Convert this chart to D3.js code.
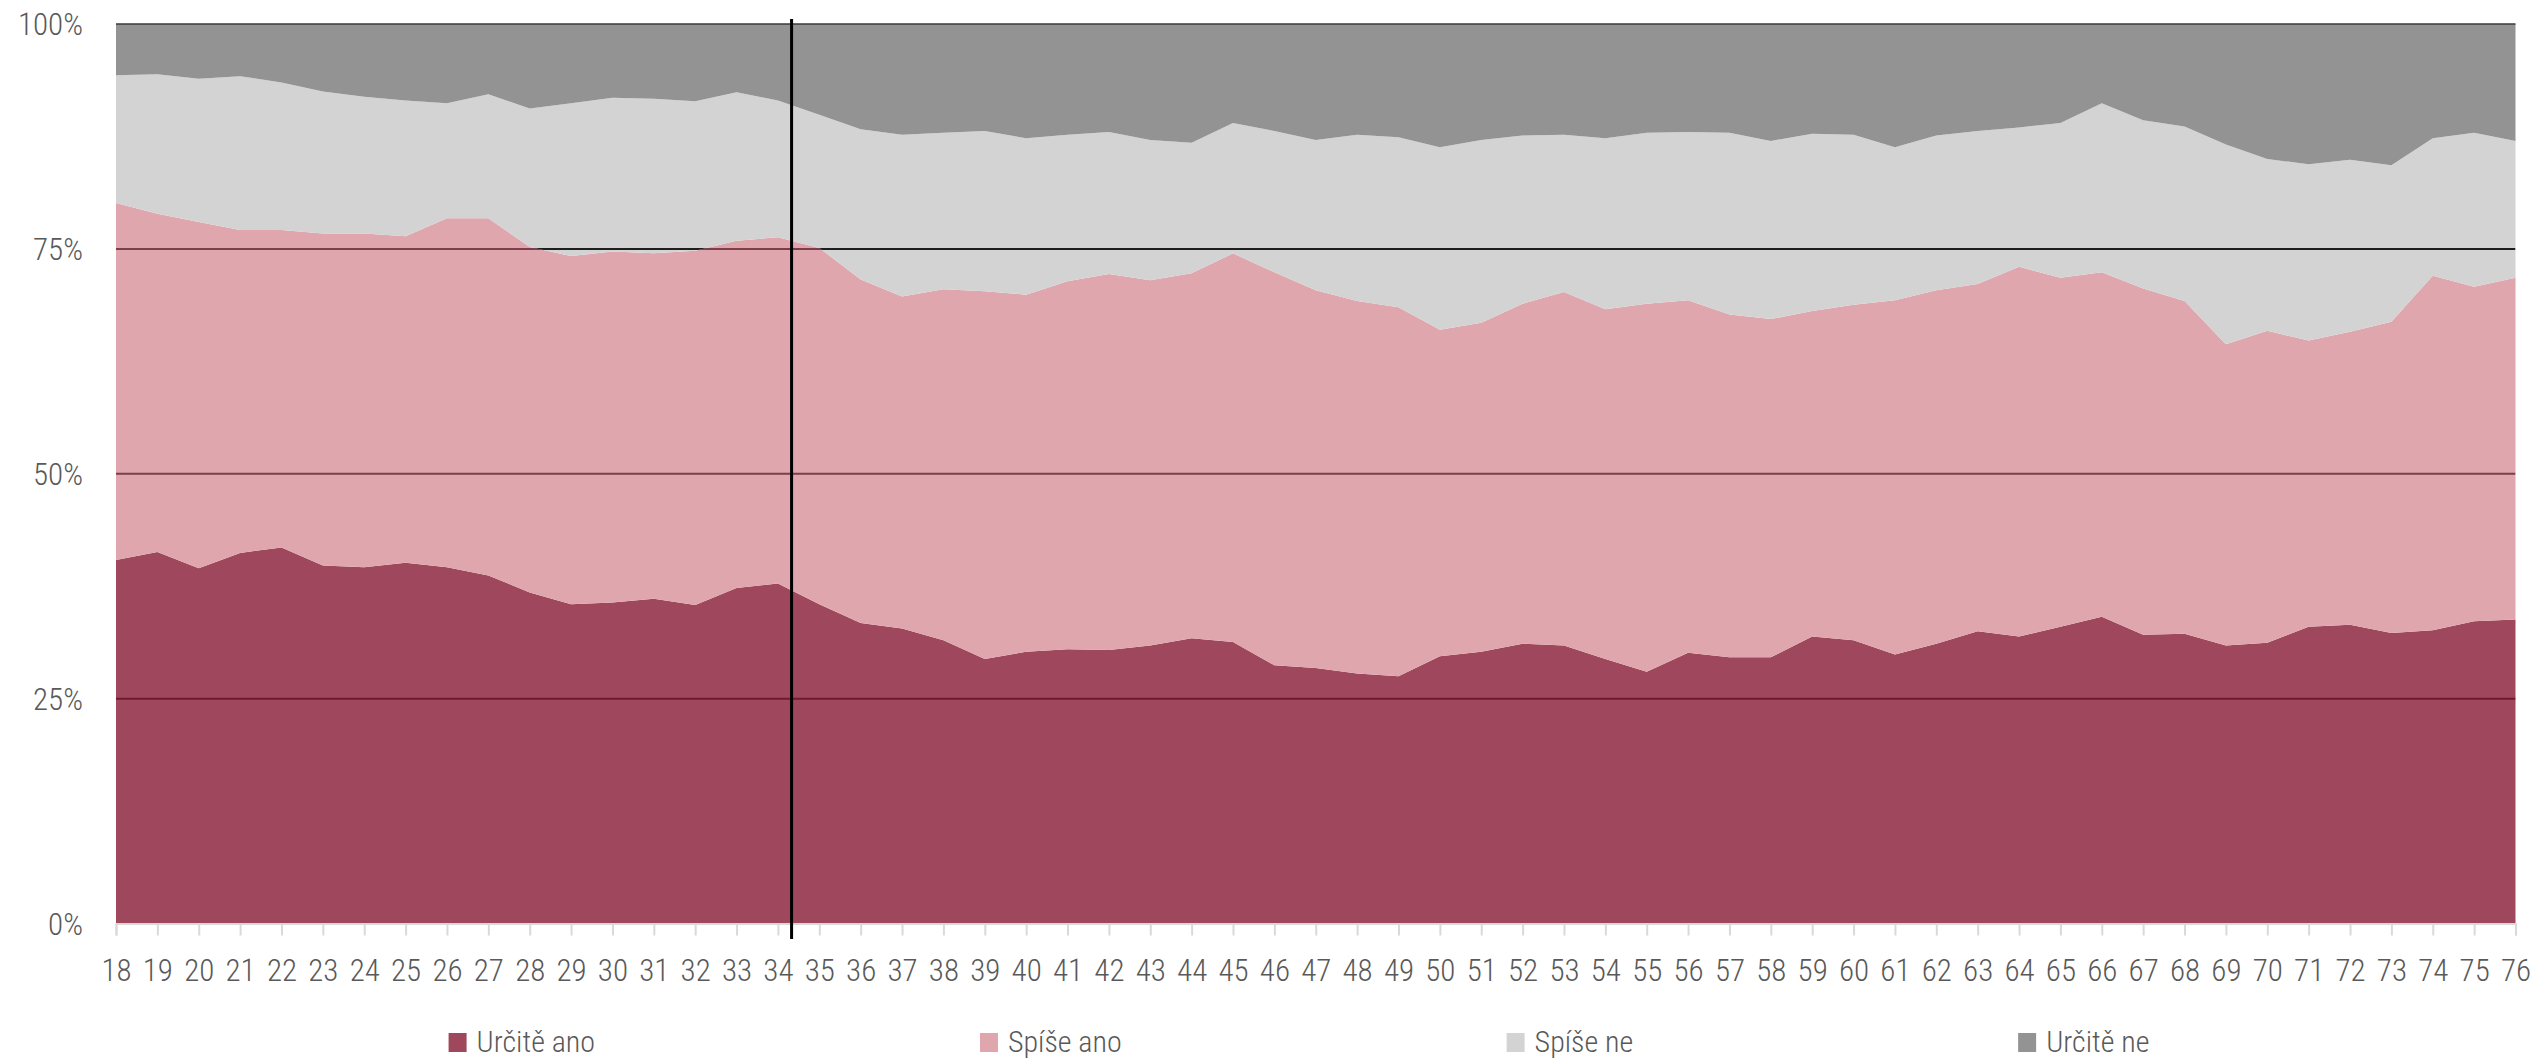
<!DOCTYPE html>
<html>
<head>
<meta charset="utf-8">
<script src="https://cdn.jsdelivr.net/npm/d3@7"></script>
<style>
  html, body { margin: 0; padding: 0; background: #ffffff; }
  svg { display: block; }
  text { font-family: Roboto, "Noto Sans", sans-serif; font-weight: 300; font-stretch: condensed; fill: #595959; }
</style>
</head>
<body>
<svg id="chart" width="2537" height="1058"></svg>
<script>
// ---- data ----
const ages = [18,19,20,21,22,23,24,25,26,27,28,29,30,31,32,33,34,35,36,37,38,39,40,41,42,43,44,45,46,47,
              48,49,50,51,52,53,54,55,56,57,58,59,60,61,62,63,64,65,66,67,68,69,70,71,72,73,74,75,76];
const seriesNames = ["Určitě ano", "Spíše ano", "Spíše ne", "Určitě ne"];
const urciteAno = [40.4,41.3,39.5,41.2,41.8,39.8,39.6,40.1,39.6,38.7,36.8,35.5,35.7,36.1,35.4,37.3,37.8,35.5,33.4,32.8,
                   31.5,29.4,30.2,30.5,30.4,30.9,31.7,31.3,28.7,28.4,27.8,27.5,29.7,30.2,31.1,30.9,29.4,28.0,30.1,29.6,
                   29.6,31.9,31.5,29.9,31.1,32.5,31.9,33.0,34.1,32.1,32.2,30.9,31.2,33.0,33.2,32.3,32.6,33.6,33.8];
const spiseAno  = [39.7,37.6,38.5,35.9,35.3,36.9,37.1,36.3,38.8,39.7,38.4,38.7,39.0,38.4,39.4,38.6,38.5,39.6,38.2,36.9,
                   39.0,40.9,39.7,40.9,41.8,40.6,40.6,43.2,43.7,42.0,41.4,41.0,36.3,36.6,37.8,39.3,38.9,40.9,39.2,38.1,
                   37.6,36.2,37.3,39.4,39.3,38.6,41.1,38.8,38.3,38.5,37.0,33.5,34.7,31.8,32.6,34.6,39.4,37.2,38.0];
const spiseNe   = [14.2,15.5,15.9,17.1,16.4,15.8,15.2,15.1,12.8,13.8,15.4,17.0,17.1,17.2,16.6,16.5,15.2,14.8,16.7,18.0,
                   17.4,17.8,17.4,16.3,15.8,15.6,14.5,14.5,15.7,16.7,18.5,18.9,20.3,20.3,18.7,17.5,19.0,19.0,18.7,20.2,
                   19.8,19.7,18.9,17.0,17.2,17.0,15.5,17.2,18.8,18.7,19.4,22.2,19.1,19.6,19.1,17.4,15.3,17.1,15.2];
const urciteNe  = [5.7,5.6,6.1,5.8,6.5,7.5,8.1,8.5,8.8,7.8,9.4,8.8,8.2,8.3,8.6,7.6,8.5,10.1,11.7,12.3,
                   12.1,11.9,12.7,12.3,12.0,12.9,13.2,11.0,11.9,12.9,12.3,12.6,13.7,12.9,12.4,12.3,12.7,12.1,12.0,12.1,
                   13.0,12.2,12.3,13.7,12.4,11.9,11.5,11.0,8.8,10.7,11.4,13.4,15.0,15.6,15.1,15.7,12.7,12.1,13.0];
const yTickValues = [0, 25, 50, 75, 100];
const yTickLabels = ["0%", "25%", "50%", "75%", "100%"];
const markerAge = 34.33;

// ---- styles ----
const colors = ["#9f475c", "#e0a6ad", "#d3d3d3", "#939393"];
const gridColors = ["#6e1a30", "#7d3d4b", "#1e1e1e", "#3a3a3a"];

const svg = d3.select("#chart");
const plotLeft = 116, plotRight = 2515.5, plotTop = 24, plotBottom = 923.5;

const x = d3.scaleLinear().domain([ages[0], ages[ages.length - 1]]).range([plotLeft, plotRight]);
const y = d3.scaleLinear().domain([0, 100]).range([plotBottom, plotTop]);

const rows = ages.map((a, i) => ({
  age: a,
  "Určitě ano": urciteAno[i],
  "Spíše ano": spiseAno[i],
  "Spíše ne": spiseNe[i],
  "Určitě ne": urciteNe[i]
}));
const stacked = d3.stack().keys(seriesNames).offset(d3.stackOffsetExpand)(rows);

const area = d3.area()
  .x(d => x(d.data.age))
  .y0(d => y(d[0] * 100))
  .y1(d => y(d[1] * 100));

const defs = svg.append("defs");
stacked.forEach((s, i) => {
  defs.append("clipPath").attr("id", "clip" + i)
    .append("path").attr("d", area(s));
});

svg.append("g").selectAll("path").data(stacked).join("path")
  .attr("d", area)
  .attr("fill", (d, i) => colors[i]);

// gridlines, coloured by the area they cross
stacked.forEach((s, i) => {
  svg.append("g").attr("clip-path", `url(#clip${i})`)
    .selectAll("line").data(yTickValues.filter(v => v > 0 && v < 100)).join("line")
    .attr("x1", plotLeft).attr("x2", plotRight)
    .attr("y1", d => y(d)).attr("y2", d => y(d))
    .attr("stroke", gridColors[i]).attr("stroke-width", 2);
});
// top border (100%)
svg.append("line")
  .attr("x1", plotLeft).attr("x2", plotRight).attr("y1", y(100)).attr("y2", y(100))
  .attr("stroke", "#3a3a3a").attr("stroke-width", 1.5);

// x axis
const xAxis = svg.append("g").attr("transform", `translate(0,${plotBottom})`)
  .call(d3.axisBottom(x).tickValues(ages).tickSize(12).tickFormat(d => d));
xAxis.select(".domain").attr("stroke", "#d9d9d9").attr("stroke-width", 2);
xAxis.selectAll(".tick line").attr("stroke", "#d9d9d9").attr("stroke-width", 2);
xAxis.selectAll(".tick text")
  .attr("y", 57.5).attr("dy", 0)
  .style("font-size", "31px").style("fill", "#595959");

// y axis
const yAxis = svg.append("g").attr("transform", `translate(${plotLeft},0)`)
  .call(d3.axisLeft(y).tickValues(yTickValues).tickSize(0).tickPadding(33)
        .tickFormat((d, i) => yTickLabels[i]));
yAxis.select(".domain").remove();
yAxis.selectAll(".tick text").style("font-size", "31px").style("fill", "#595959").attr("dy", "0.35em");

// vertical marker line
svg.append("line")
  .attr("x1", x(markerAge)).attr("x2", x(markerAge))
  .attr("y1", 19).attr("y2", 939)
  .attr("stroke", "#000").attr("stroke-width", 3);

// legend
const legend = svg.append("g");
const items = seriesNames.map((name, i) => {
  const g = legend.append("g");
  g.append("rect").attr("width", 18).attr("height", 19).attr("y", 1033).attr("fill", colors[i]);
  const t = g.append("text").attr("x", 28).attr("y", 1052).text(name).style("font-size", "30px");
  return { g, w: 28 + t.node().getComputedTextLength() };
});
const gap = 385;
const total = d3.sum(items, d => d.w) + gap * (items.length - 1);
let cx = 1299 - total / 2;
items.forEach(it => { it.g.attr("transform", `translate(${cx},0)`); cx += it.w + gap; });
</script>
</body>
</html>
